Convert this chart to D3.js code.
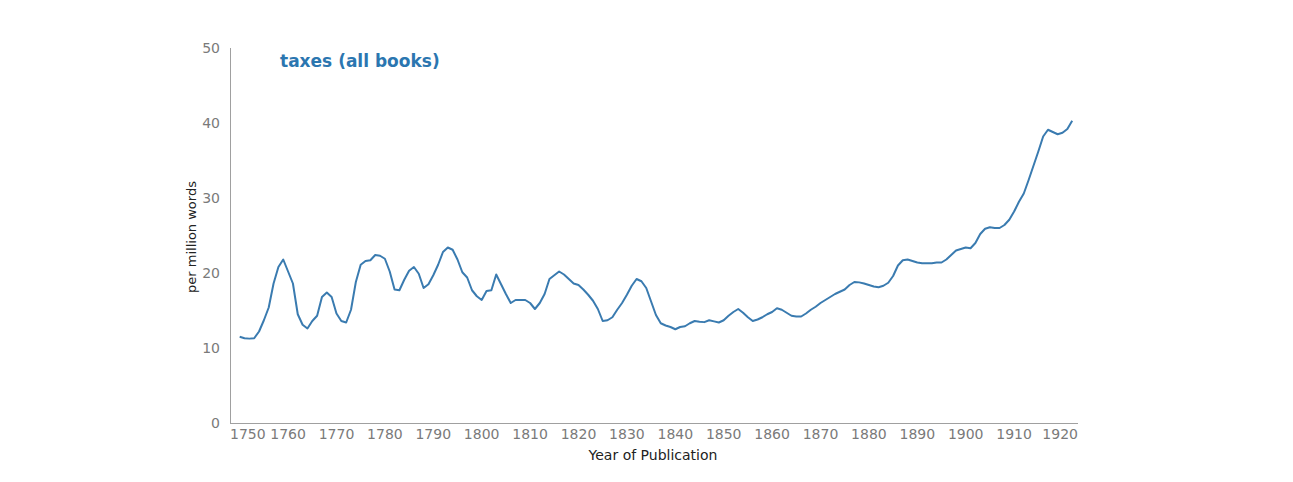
<!doctype html>
<html lang="en">
<head>
<meta charset="utf-8">
<title>taxes (all books)</title>
<script src="https://d3js.org/d3.v7.min.js"></script>
<style>
  html, body { margin: 0; padding: 0; background: #fff; }
  svg text { font-family: "DejaVu Sans", Verdana, sans-serif; }
</style>
</head>
<body>
<div id="output"></div>
<script>
    // yearly values, per million words, 1750 .. 1922
    var startYear = 1750;
    var values = [
        11.5, 11.3, 11.25, 11.3, 12.2, 13.7, 15.4, 18.6, 20.8, 21.8,
        20.2, 18.6, 14.5, 13.1, 12.6, 13.6, 14.3, 16.8, 17.4, 16.8,
        14.6, 13.6, 13.4, 15.1, 18.8, 21.1, 21.6, 21.7, 22.4, 22.3,
        21.9, 20.2, 17.8, 17.7, 19.1, 20.3, 20.8, 19.9, 18.0, 18.5,
        19.7, 21.1, 22.8, 23.4, 23.1, 21.8, 20.1, 19.4, 17.7, 16.9,
        16.4, 17.6, 17.7, 19.8, 18.5, 17.2, 16.0, 16.4, 16.4, 16.4,
        16.0, 15.2, 16.0, 17.2, 19.2, 19.7, 20.2, 19.8, 19.2, 18.6,
        18.4, 17.8, 17.1, 16.3, 15.2, 13.6, 13.7, 14.1, 15.1, 16.0,
        17.1, 18.3, 19.2, 18.9, 18.0, 16.2, 14.4, 13.3, 13.0, 12.8,
        12.5, 12.8, 12.9, 13.3, 13.6, 13.5, 13.45, 13.7, 13.55, 13.4,
        13.7, 14.3, 14.8, 15.2, 14.7, 14.1, 13.6, 13.8, 14.1, 14.5,
        14.8, 15.3, 15.1, 14.7, 14.3, 14.2, 14.2, 14.6, 15.1, 15.5,
        16.0, 16.4, 16.8, 17.2, 17.5, 17.8, 18.4, 18.8, 18.75, 18.6,
        18.4, 18.2, 18.1, 18.3, 18.7, 19.6, 21.0, 21.7, 21.8, 21.6,
        21.4, 21.3, 21.3, 21.3, 21.4, 21.4, 21.8, 22.4, 23.0, 23.2,
        23.4, 23.3, 24.0, 25.2, 25.9, 26.1, 26.0, 26.0, 26.4, 27.1,
        28.2, 29.5, 30.6, 32.4, 34.3, 36.2, 38.2, 39.1, 38.8, 38.5,
        38.7, 39.2, 40.3
    ];
    var xTicks = [1750, 1760, 1770, 1780, 1790, 1800, 1810, 1820, 1830, 1840,
                  1850, 1860, 1870, 1880, 1890, 1900, 1910, 1920];
    var yTicks = [0, 10, 20, 30, 40, 50];

    var data = values.map(function (v, i) { return { year: startYear + i, value: v }; });

    var width = 1293, height = 482;
    var plotLeft = 230, plotRight = 1078, plotTop = 48, plotBottom = 423;

    var svg = d3.select("#output").append("svg")
        .attr("width", width)
        .attr("height", height);

    var x = d3.scaleLinear()
        .domain([1748, 1923.2])
        .range([plotLeft, plotRight]);

    var y = d3.scaleLinear()
        .domain([0, 50])
        .range([plotBottom, plotTop]);

    // axes lines
    svg.append("line")
        .attr("x1", plotLeft + 0.5).attr("x2", plotLeft + 0.5)
        .attr("y1", y(50)).attr("y2", plotBottom)
        .attr("stroke", "#a0a0a0").attr("stroke-width", 1);

    svg.append("line")
        .attr("x1", plotLeft).attr("x2", plotRight)
        .attr("y1", plotBottom + 0.5).attr("y2", plotBottom + 0.5)
        .attr("stroke", "#a0a0a0").attr("stroke-width", 1);

    // y tick labels
    svg.selectAll(".ytick")
        .data(yTicks)
        .enter()
        .append("text")
        .attr("class", "ytick")
        .attr("x", 220)
        .attr("y", function (d) { return y(d); })
        .attr("dy", "0.35em")
        .attr("text-anchor", "end")
        .attr("font-size", 14)
        .attr("fill", "#7a7a7a")
        .text(function (d) { return d; });

    // x tick labels, first and last kept inside the axis
    svg.selectAll(".xtick")
        .data(xTicks)
        .enter()
        .append("text")
        .attr("class", "xtick")
        .attr("x", function (d, i) {
            if (i === 0) return plotLeft;
            if (i === xTicks.length - 1) return plotRight;
            return x(d);
        })
        .attr("y", 439)
        .attr("text-anchor", function (d, i) {
            if (i === 0) return "start";
            if (i === xTicks.length - 1) return "end";
            return "middle";
        })
        .attr("font-size", 14)
        .attr("fill", "#7a7a7a")
        .text(function (d) { return d; });

    // the series
    var line = d3.line()
        .x(function (d) { return x(d.year); })
        .y(function (d) { return y(d.value); });

    svg.append("path")
        .datum(data)
        .attr("d", line)
        .attr("fill", "none")
        .attr("stroke", "#3a7bb0")
        .attr("stroke-width", 2)
        .attr("stroke-linejoin", "round");

    // labels
    svg.append("text")
        .attr("x", 280)
        .attr("y", 67)
        .attr("font-size", 17)
        .attr("font-weight", "bold")
        .attr("fill", "#2b76b0")
        .text("taxes (all books)");

    svg.append("text")
        .attr("x", 653)
        .attr("y", 460)
        .attr("text-anchor", "middle")
        .attr("font-size", 14)
        .attr("fill", "#222")
        .text("Year of Publication");

    svg.append("text")
        .attr("transform", "translate(196,237) rotate(-90)")
        .attr("text-anchor", "middle")
        .attr("font-size", 13)
        .attr("fill", "#222")
        .text("per million words");
</script>
</body>
</html>
